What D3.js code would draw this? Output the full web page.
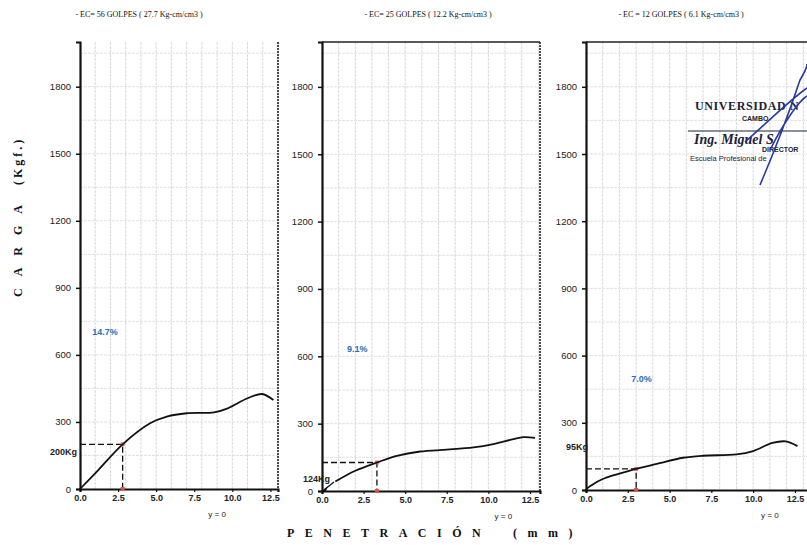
<!DOCTYPE html>
<html>
<head>
<meta charset="utf-8">
<script src="https://cdn.jsdelivr.net/npm/d3@7"></script>
<style>
  body { margin: 0; background: #fff; }
  svg { display: block; }
</style>
</head>
<body>
<svg id="chart" width="807" height="545"></svg>
<script>
// penetration (mm) vs load (kg), one pair of arrays per sample
const pen56 = [0, 1.2, 2.8, 4.6, 5.7, 7.0, 8.8, 9.7, 11.0, 11.95, 12.7];
const load56 = [0, 85, 200, 294, 324, 339, 343, 361, 406, 425, 398];
const pen25 = [0.8, 2.0, 3.3, 4.5, 5.9, 7.5, 9.1, 10.3, 11.5, 12.1, 12.8];
const load25 = [42, 90, 127, 157, 176, 184, 194, 209, 231, 240, 237];
const pen12 = [0, 0.3, 1.0, 3.0, 4.4, 5.8, 7.0, 9.0, 10.0, 11.15, 11.95, 12.65];
const load12 = [3, 20, 49, 94, 120, 144, 153, 159, 174, 210, 217, 196];

const titles = [
  "- EC= 56 GOLPES ( 27.7 Kg-cm/cm3 )",
  "- EC= 25 GOLPES ( 12.2 Kg-cm/cm3 )",
  "- EC = 12 GOLPES ( 6.1 Kg-cm/cm3 )"
];
const cbrLabels = ["14.7%", "9.1%", "7.0%"];
const loadLabels = ["200Kg", "124Kg", "95Kg"];
const markPen = [2.8, 3.3, 3.0];     // where the dashed guide drops to the x axis
const markLoad = [200, 127, 94];     // load at that penetration
const cbrAt = [[0.8, 690], [1.5, 620], [2.7, 480]];   // where the % text sits
const yZeroAt = [9.0, 10.9, 11.0];   // where "y = 0" sits under each axis

const xTicks = [0, 2.5, 5, 7.5, 10, 12.5];
const yTicks = [0, 300, 600, 900, 1200, 1500, 1800];

const svg = d3.select('#chart');

// panel boxes in page pixels
const panels = [
  { left: 80, right: 278, top: 42, bottom: 489, xMax: 13.0, topBorder: false, titleX: 139 },
  { left: 322, right: 540, top: 42, bottom: 491, xMax: 13.1, topBorder: true, titleX: 428 },
  { left: 586, right: 810, top: 42, bottom: 490, xMax: 13.4, topBorder: true, titleX: 681 }
];
const series = [[pen56, load56], [pen25, load25], [pen12, load12]];

panels.forEach((p, i) => {
  const x = d3.scaleLinear().domain([0, p.xMax]).range([p.left, p.right]);
  const y = d3.scaleLinear().domain([0, 2000]).range([p.bottom, p.top]);
  const g = svg.append('g');

  // grid
  g.append('g').selectAll('line').data(d3.range(1, Math.floor(p.xMax) + 1))
    .join('line')
    .attr('x1', d => x(d)).attr('x2', d => x(d))
    .attr('y1', p.top).attr('y2', p.bottom)
    .attr('stroke', '#cfcfcf').attr('stroke-width', 0.8)
    .attr('stroke-dasharray', '3,1');
  g.append('g').selectAll('line').data(d3.range(150, 2000, 150))
    .join('line')
    .attr('x1', p.left).attr('x2', p.right)
    .attr('y1', d => y(d)).attr('y2', d => y(d))
    .attr('stroke', '#d9d9d9').attr('stroke-width', 0.8)
    .attr('stroke-dasharray', '3,1');

  // frame
  if (p.topBorder) {
    g.append('line').attr('x1', p.left).attr('x2', p.right)
      .attr('y1', p.top).attr('y2', p.top)
      .attr('stroke', '#222').attr('stroke-width', 1.6);
  }
  g.append('line').attr('x1', p.right).attr('x2', p.right)
    .attr('y1', p.top).attr('y2', p.bottom)
    .attr('stroke', '#222').attr('stroke-width', 1.6).attr('stroke-dasharray', '2,1');

  // y axis
  const yAxis = g.append('g')
    .attr('transform', `translate(${p.left},0)`)
    .call(d3.axisLeft(y).tickValues(yTicks).tickSize(4).tickPadding(5).tickFormat(d3.format('d')));
  yAxis.select('.domain').attr('stroke', '#111').attr('stroke-width', 2.2);
  yAxis.selectAll('.tick line').attr('stroke', '#111').attr('stroke-width', 1.5);
  yAxis.selectAll('.tick text')
    .attr('font-family', 'Liberation Sans, Arial, sans-serif')
    .attr('font-size', 9.5).attr('fill', '#222');

  // x axis
  const xAxis = g.append('g')
    .attr('transform', `translate(0,${p.bottom})`)
    .call(d3.axisBottom(x).tickValues(xTicks).tickSize(3).tickPadding(3).tickFormat(d3.format('.1f')));
  xAxis.select('.domain').attr('stroke', '#111').attr('stroke-width', 2.2);
  xAxis.selectAll('.tick line').attr('stroke', '#111').attr('stroke-width', 1.2);
  xAxis.selectAll('.tick text')
    .attr('font-family', 'Liberation Sans, Arial, sans-serif')
    .attr('font-size', 9).attr('font-weight', 'bold').attr('fill', '#222');

  // title
  svg.append('text')
    .attr('x', p.titleX).attr('y', 17)
    .attr('text-anchor', 'middle')
    .attr('font-family', 'Liberation Serif, Times New Roman, serif')
    .attr('font-size', 8).attr('fill', '#111')
    .text(titles[i]);

  // dashed guide to the reading
  const mx = x(markPen[i]), my = y(markLoad[i]);
  g.append('path')
    .attr('d', `M${p.left},${my}H${mx}V${p.bottom}`)
    .attr('fill', 'none').attr('stroke', '#111').attr('stroke-width', 1.3)
    .attr('stroke-dasharray', '6,3');
  g.append('rect').attr('x', mx - 2).attr('y', my - 2).attr('width', 4).attr('height', 4)
    .attr('fill', '#d9534f').attr('opacity', 0.8);
  g.append('rect').attr('x', mx - 2).attr('y', p.bottom - 2).attr('width', 4).attr('height', 4)
    .attr('fill', '#d9534f');

  // curve
  const [px, py] = series[i];
  const line = d3.line().x(d => x(d[0])).y(d => y(d[1])).curve(d3.curveCatmullRom.alpha(0.5));
  g.append('path')
    .datum(d3.zip(px, py))
    .attr('d', line)
    .attr('fill', 'none').attr('stroke', '#111').attr('stroke-width', 1.8);

  // CBR text
  g.append('text')
    .attr('x', x(cbrAt[i][0])).attr('y', y(cbrAt[i][1]))
    .attr('font-family', 'Liberation Sans, Arial, sans-serif')
    .attr('font-size', 9).attr('font-weight', 'bold').attr('fill', '#1f6fc0')
    .text(cbrLabels[i]);

  // y = 0
  g.append('text')
    .attr('x', x(yZeroAt[i])).attr('y', p.bottom + 28)
    .attr('text-anchor', 'middle')
    .attr('font-family', 'Liberation Sans, Arial, sans-serif')
    .attr('font-size', 8).attr('fill', '#222')
    .text('y = 0');
});

// load labels beside the dashed guides
const lab = svg.append('g')
  .attr('font-family', 'Liberation Sans, Arial, sans-serif')
  .attr('font-size', 9).attr('font-weight', 'bold').attr('fill', '#222');
lab.append('text').attr('x', 77).attr('y', 455).attr('text-anchor', 'end').text(loadLabels[0]);
lab.append('text').attr('x', 303).attr('y', 482).text(loadLabels[1]);
lab.append('text').attr('x', 566).attr('y', 450).text(loadLabels[2]);
// little arrow at the origin of panel 2
svg.append('path').attr('d', 'M334,482 L324,490').attr('stroke', '#111').attr('stroke-width', 1.3);
svg.append('path').attr('d', 'M322,491 L328,486 L326,491 Z').attr('fill', '#111');

// axis titles
const serif = 'Liberation Serif, Times New Roman, serif';
svg.append('text')
  .attr('transform', 'translate(22,297) rotate(-90)')
  .attr('font-family', serif).attr('font-size', 12).attr('font-weight', 'bold')
  .attr('letter-spacing', 12).attr('fill', '#111')
  .text('CARGA');
svg.append('text')
  .attr('transform', 'translate(22,185) rotate(-90)')
  .attr('font-family', serif).attr('font-size', 12).attr('font-weight', 'bold')
  .attr('letter-spacing', 3).attr('fill', '#111')
  .text('(Kgf.)');
svg.append('text')
  .attr('x', 287).attr('y', 537)
  .attr('font-family', serif).attr('font-size', 12).attr('font-weight', 'bold')
  .attr('letter-spacing', 10.5).attr('fill', '#111')
  .text('PENETRACIÓN');
svg.append('text')
  .attr('x', 513).attr('y', 537)
  .attr('font-family', serif).attr('font-size', 12).attr('font-weight', 'bold')
  .attr('letter-spacing', 10.5).attr('fill', '#111')
  .text('(mm)');

// stamp over the third panel
const stamp = svg.append('g').attr('fill', '#1b2236').attr('font-family', serif);
stamp.append('text').attr('x', 695).attr('y', 110).attr('font-size', 12).attr('font-weight', 'bold')
  .attr('letter-spacing', 0.6).text('UNIVERSIDAD N');
stamp.append('text').attr('x', 742).attr('y', 121).attr('font-size', 7).attr('font-weight', 'bold')
  .attr('font-family', 'Liberation Sans, Arial, sans-serif').text('CAMBO');
stamp.append('line').attr('x1', 688).attr('x2', 807).attr('y1', 131).attr('y2', 131)
  .attr('stroke', '#1b2236').attr('stroke-width', 1.2);
stamp.append('text').attr('x', 694).attr('y', 144).attr('font-size', 14).attr('font-weight', 'bold')
  .attr('font-style', 'italic').text('Ing. Miguel S');
stamp.append('text').attr('x', 762).attr('y', 152).attr('font-size', 7).attr('font-weight', 'bold')
  .attr('font-family', 'Liberation Sans, Arial, sans-serif').text('DIRECTOR');
stamp.append('text').attr('x', 690).attr('y', 161).attr('font-size', 7.5)
  .attr('font-family', 'Liberation Sans, Arial, sans-serif').text('Escuela Profesional de');
// signature strokes
svg.append('path')
  .attr('d', 'M760,185 C775,150 790,110 800,80 C806,70 807,66 807,64 M745,142 C770,120 790,100 807,88 M770,150 C785,120 800,100 807,96')
  .attr('fill', 'none').attr('stroke', '#2a3aa0').attr('stroke-width', 1.6);
</script>
</body>
</html>
